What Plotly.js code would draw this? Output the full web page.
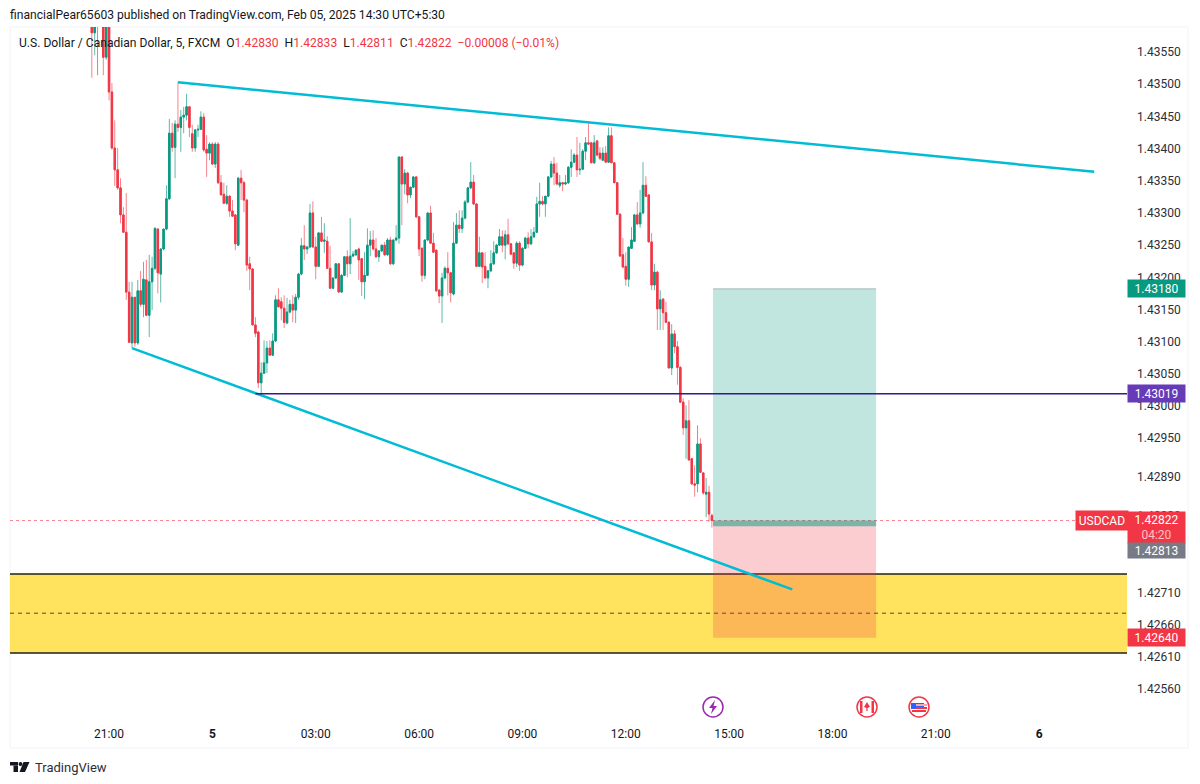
<!DOCTYPE html>
<html>
<head>
<meta charset="utf-8">
<script src="https://cdn.plot.ly/plotly-3.0.1.min.js"></script>
<style>
	html, body { margin: 0; padding: 0; background: #fff; }
	#chart { width: 1200px; height: 784px; }
</style>
</head>
<body>
<div id="chart"></div>
<script>
'use strict';

// USDCAD 5 min candles, first bar 20:30, last bar 14:30
const firstBar = '2025-02-04T20:30:00Z';

const opens = [
1.43603,1.43580,1.43594,1.43607,1.43600,1.43542,1.43592,1.43488,1.43401,1.43367,
1.43339,1.43297,1.43270,1.43177,1.43098,1.43169,1.43098,1.43179,1.43158,1.43196,
1.43141,1.43193,1.43214,1.43275,1.43205,1.43244,1.43275,1.43322,1.43424,1.43402,
1.43438,1.43433,1.43449,1.43452,1.43465,1.43423,1.43401,1.43429,1.43430,1.43449,
1.43399,1.43393,1.43407,1.43376,1.43407,1.43347,1.43329,1.43315,1.43326,1.43303,
1.43297,1.43250,1.43354,1.43347,1.43320,1.43221,1.43213,1.43126,1.43115,1.43036,
1.43051,1.43067,1.43090,1.43079,1.43101,1.43165,1.43162,1.43152,1.43129,1.43146,
1.43158,1.43149,1.43169,1.43205,1.43249,1.43244,1.43247,1.43300,1.43247,1.43217,
1.43269,1.43256,1.43256,1.43214,1.43183,1.43199,1.43221,1.43177,1.43203,1.43232,
1.43221,1.43233,1.43235,1.43244,1.43229,1.43193,1.43203,1.43250,1.43258,1.43244,
1.43232,1.43241,1.43250,1.43235,1.43258,1.43221,1.43258,1.43261,1.43387,1.43345,
1.43362,1.43328,1.43340,1.43356,1.43294,1.43245,1.43203,1.43258,1.43300,1.43253,
1.43242,1.43180,1.43171,1.43199,1.43214,1.43207,1.43174,1.43253,1.43281,1.43276,
1.43292,1.43317,1.43339,1.43348,1.43314,1.43217,1.43238,1.43217,1.43199,1.43210,
1.43221,1.43238,1.43250,1.43263,1.43250,1.43266,1.43252,1.43238,1.43222,1.43253,
1.43219,1.43245,1.43261,1.43252,1.43263,1.43270,1.43314,1.43318,1.43314,1.43326,
1.43356,1.43376,1.43362,1.43343,1.43347,1.43345,1.43347,1.43371,1.43379,1.43390,
1.43367,1.43368,1.43396,1.43409,1.43409,1.43378,1.43412,1.43393,1.43382,1.43393,
1.43379,1.43420,1.43378,1.43347,1.43298,1.43235,1.43217,1.43197,1.43245,1.43256,
1.43297,1.43283,1.43300,1.43343,1.43328,1.43255,1.43188,1.43208,1.43151,1.43166,
1.43145,1.43130,1.43059,1.43112,1.43092,1.43060,1.43006,1.42966,1.42977,1.42918,
1.42879,1.42879,1.42941,1.42896,1.42863,1.42866,1.42830];

const highs = [
1.43615,1.43607,1.43615,1.43618,1.43615,1.43607,1.43615,1.43502,1.43444,1.43401,
1.43354,1.43309,1.43331,1.43193,1.43193,1.43169,1.43196,1.43210,1.43224,1.43227,
1.43235,1.43232,1.43278,1.43276,1.43245,1.43275,1.43343,1.43446,1.43440,1.43444,
1.43503,1.43460,1.43465,1.43485,1.43466,1.43437,1.43430,1.43437,1.43458,1.43455,
1.43421,1.43410,1.43410,1.43410,1.43410,1.43359,1.43347,1.43343,1.43328,1.43320,
1.43298,1.43356,1.43367,1.43350,1.43322,1.43232,1.43214,1.43138,1.43117,1.43068,
1.43102,1.43101,1.43102,1.43113,1.43172,1.43183,1.43169,1.43172,1.43168,1.43165,
1.43172,1.43174,1.43207,1.43261,1.43281,1.43249,1.43314,1.43318,1.43263,1.43270,
1.43294,1.43284,1.43264,1.43249,1.43199,1.43221,1.43222,1.43205,1.43233,1.43242,
1.43292,1.43241,1.43244,1.43246,1.43230,1.43239,1.43276,1.43272,1.43273,1.43261,
1.43242,1.43250,1.43255,1.43261,1.43263,1.43258,1.43281,1.43387,1.43388,1.43368,
1.43364,1.43340,1.43357,1.43357,1.43295,1.43247,1.43258,1.43300,1.43311,1.43269,
1.43244,1.43182,1.43207,1.43217,1.43239,1.43208,1.43286,1.43300,1.43304,1.43304,
1.43320,1.43339,1.43379,1.43359,1.43315,1.43263,1.43239,1.43239,1.43211,1.43242,
1.43256,1.43252,1.43275,1.43273,1.43273,1.43291,1.43253,1.43239,1.43256,1.43256,
1.43247,1.43263,1.43270,1.43275,1.43278,1.43325,1.43347,1.43326,1.43326,1.43357,
1.43381,1.43387,1.43378,1.43359,1.43348,1.43359,1.43373,1.43399,1.43393,1.43418,
1.43409,1.43399,1.43418,1.43440,1.43410,1.43421,1.43413,1.43402,1.43402,1.43404,
1.43433,1.43433,1.43379,1.43348,1.43300,1.43261,1.43239,1.43247,1.43278,1.43297,
1.43317,1.43336,1.43379,1.43357,1.43329,1.43269,1.43221,1.43210,1.43180,1.43168,
1.43162,1.43132,1.43127,1.43118,1.43101,1.43062,1.43012,1.43001,1.43009,1.42919,
1.42908,1.42970,1.42950,1.42897,1.42888,1.42876,1.42833];

const lows = [
1.43510,1.43545,1.43514,1.43597,1.43514,1.43538,1.43475,1.43398,1.43342,1.43336,
1.43284,1.43270,1.43165,1.43098,1.43090,1.43092,1.43095,1.43154,1.43138,1.43140,
1.43107,1.43149,1.43211,1.43175,1.43161,1.43242,1.43273,1.43320,1.43395,1.43354,
1.43426,1.43395,1.43424,1.43444,1.43418,1.43395,1.43395,1.43418,1.43429,1.43395,
1.43356,1.43382,1.43375,1.43370,1.43345,1.43328,1.43315,1.43312,1.43294,1.43294,
1.43242,1.43249,1.43320,1.43301,1.43210,1.43180,1.43126,1.43107,1.43028,1.43017,
1.43050,1.43051,1.43079,1.43078,1.43099,1.43154,1.43133,1.43121,1.43127,1.43144,
1.43130,1.43129,1.43165,1.43203,1.43227,1.43236,1.43245,1.43247,1.43197,1.43216,
1.43255,1.43238,1.43214,1.43183,1.43182,1.43197,1.43177,1.43176,1.43202,1.43200,
1.43205,1.43232,1.43233,1.43196,1.43171,1.43166,1.43202,1.43233,1.43242,1.43230,
1.43224,1.43239,1.43233,1.43233,1.43219,1.43219,1.43256,1.43252,1.43281,1.43329,
1.43315,1.43323,1.43339,1.43292,1.43233,1.43193,1.43197,1.43256,1.43252,1.43238,
1.43177,1.43160,1.43129,1.43197,1.43172,1.43161,1.43172,1.43252,1.43269,1.43269,
1.43290,1.43315,1.43337,1.43312,1.43217,1.43216,1.43191,1.43197,1.43183,1.43208,
1.43219,1.43236,1.43249,1.43239,1.43228,1.43250,1.43235,1.43213,1.43216,1.43210,
1.43217,1.43244,1.43245,1.43250,1.43261,1.43269,1.43294,1.43312,1.43294,1.43325,
1.43354,1.43343,1.43343,1.43339,1.43334,1.43343,1.43345,1.43356,1.43378,1.43356,
1.43359,1.43367,1.43382,1.43406,1.43378,1.43376,1.43388,1.43382,1.43381,1.43379,
1.43378,1.43378,1.43347,1.43297,1.43232,1.43214,1.43187,1.43185,1.43244,1.43255,
1.43281,1.43277,1.43298,1.43325,1.43255,1.43180,1.43180,1.43118,1.43118,1.43118,
1.43129,1.43059,1.43048,1.43082,1.43033,1.43006,1.42955,1.42918,1.42916,1.42877,
1.42859,1.42866,1.42896,1.42862,1.42827,1.42820,1.42811];

const closes = [
1.43580,1.43597,1.43600,1.43603,1.43542,1.43592,1.43488,1.43401,1.43367,1.43339,
1.43297,1.43270,1.43177,1.43099,1.43169,1.43098,1.43179,1.43158,1.43197,1.43141,
1.43193,1.43214,1.43276,1.43207,1.43244,1.43275,1.43322,1.43424,1.43402,1.43438,
1.43433,1.43449,1.43452,1.43465,1.43433,1.43401,1.43429,1.43430,1.43449,1.43398,
1.43393,1.43407,1.43376,1.43407,1.43347,1.43328,1.43315,1.43326,1.43303,1.43295,
1.43252,1.43354,1.43347,1.43320,1.43219,1.43213,1.43126,1.43113,1.43036,1.43051,
1.43067,1.43090,1.43079,1.43101,1.43165,1.43154,1.43152,1.43130,1.43146,1.43158,
1.43149,1.43169,1.43205,1.43249,1.43244,1.43247,1.43300,1.43247,1.43217,1.43269,
1.43256,1.43258,1.43214,1.43183,1.43199,1.43221,1.43177,1.43203,1.43232,1.43221,
1.43233,1.43236,1.43242,1.43227,1.43193,1.43203,1.43250,1.43258,1.43244,1.43232,
1.43241,1.43250,1.43235,1.43258,1.43221,1.43258,1.43261,1.43387,1.43345,1.43362,
1.43328,1.43340,1.43356,1.43294,1.43244,1.43203,1.43258,1.43300,1.43253,1.43239,
1.43179,1.43171,1.43199,1.43214,1.43207,1.43176,1.43253,1.43281,1.43276,1.43292,
1.43317,1.43339,1.43348,1.43314,1.43217,1.43238,1.43216,1.43199,1.43210,1.43221,
1.43238,1.43250,1.43263,1.43250,1.43266,1.43252,1.43236,1.43222,1.43253,1.43219,
1.43245,1.43261,1.43252,1.43263,1.43270,1.43314,1.43318,1.43314,1.43326,1.43356,
1.43376,1.43362,1.43345,1.43347,1.43345,1.43347,1.43371,1.43379,1.43390,1.43367,
1.43368,1.43396,1.43409,1.43407,1.43378,1.43409,1.43390,1.43385,1.43393,1.43379,
1.43420,1.43378,1.43347,1.43298,1.43233,1.43216,1.43197,1.43247,1.43258,1.43297,
1.43283,1.43300,1.43343,1.43326,1.43255,1.43188,1.43208,1.43151,1.43165,1.43145,
1.43130,1.43059,1.43112,1.43092,1.43060,1.43006,1.42966,1.42977,1.42916,1.42879,
1.42877,1.42941,1.42897,1.42865,1.42866,1.42832,1.42822];

const priceTicks = [1.43550,1.43500,1.43450,1.43400,1.43350,1.43300,1.43250,1.43200,1.43150,1.43100,1.43050,1.43000,1.42950,1.42890,1.42830,1.42710,1.42660,1.42610,1.42560];
const timeTicks = ['2025-02-04 21:00','2025-02-05 00:00','2025-02-05 03:00','2025-02-05 06:00','2025-02-05 09:00','2025-02-05 12:00','2025-02-05 15:00','2025-02-05 18:00','2025-02-05 21:00','2025-02-06 00:00'];
const timeLabels = ['21:00','<b>5</b>','03:00','06:00','09:00','12:00','15:00','18:00','21:00','<b>6</b>'];

// drawings on the chart
const upperTrendTime = ['2025-02-04 23:00','2025-02-06 01:36'];
const upperTrendPrice = [1.43503,1.43364];
const lowerTrendTime = ['2025-02-04 21:40','2025-02-05 16:50'];
const lowerTrendPrice = [1.43090,1.42715];
const pivotLevel = 1.43019;
const pivotStart = '2025-02-05 01:15';
const zoneTop = 1.42739, zoneMid = 1.42678, zoneBottom = 1.42616;
const positionTime = ['2025-02-05 14:32','2025-02-05 19:16'];
const targetPrice = 1.43182, entryPrice = 1.42813, stopPrice = 1.42640, lastPrice = 1.42822;

const GREEN = '#089981', RED = '#F23645', INK = '#131722', CYAN = '#00BCD4';
const FONT = 'Roboto, "Open Sans", sans-serif';

// plot box in page pixels
const box = { l: 10, r: 1127, t: 27, b: 720 };
const paperX = x => (x - box.l) / (box.r - box.l);
const paperY = y => (box.b - y) / (box.b - box.t);

const barTimes = opens.map((_, i) => new Date(Date.parse(firstBar) + i * 300000).toISOString());

// wicks are paler than the bodies in the picture, so draw them as their own pass
const wicks = {
	type: 'candlestick',
	x: barTimes,
	open: opens,
	high: highs,
	low: lows,
	close: closes,
	whiskerwidth: 0,
	increasing: { line: { color: '#5FB9A9', width: 1 }, fillcolor: '#5FB9A9' },
	decreasing: { line: { color: '#F6848E', width: 1 }, fillcolor: '#F6848E' },
	hoverinfo: 'skip'
};

const bodies = {
	type: 'candlestick',
	x: barTimes,
	open: opens,
	high: opens.map((o, i) => Math.max(o, closes[i])),
	low: opens.map((o, i) => Math.min(o, closes[i])),
	close: closes,
	whiskerwidth: 0,
	increasing: { line: { color: GREEN, width: 1 }, fillcolor: GREEN },
	decreasing: { line: { color: RED, width: 1 }, fillcolor: RED },
	hoverinfo: 'skip'
};

const rectP = (x0, x1, y0, y1, fill, line) => ({
	type: 'rect', xref: 'x', yref: 'y', x0, x1, y0, y1,
	fillcolor: fill, line: line || { width: 0 }, layer: 'above'
});
const lineP = (x0, x1, y0, y1, color, width, dash) => ({
	type: 'line', xref: 'x', yref: 'y', x0, x1, y0, y1,
	line: { color, width, dash: dash || 'solid' }, layer: 'above'
});
const zoneLine = (y, dash, width) => ({
	type: 'line', xref: 'paper', yref: 'y', x0: 0, x1: 1, y0: y, y1: y,
	line: { color: '#1f1f1f', width, dash }, layer: 'above'
});

// small page furniture drawn in page pixels
const dot = (cx, cy, r, line, fill) => ({
	type: 'circle', xref: 'paper', yref: 'paper',
	x0: paperX(cx - r), x1: paperX(cx + r), y0: paperY(cy + r), y1: paperY(cy - r),
	line: { color: line, width: 1.5 }, fillcolor: fill || 'rgba(0,0,0,0)'
});
const block = (x0, x1, y0, y1, fill) => ({
	type: 'rect', xref: 'paper', yref: 'paper',
	x0: paperX(x0), x1: paperX(x1), y0: paperY(y1), y1: paperY(y0),
	fillcolor: fill, line: { width: 0 }
});
const outline = (pts, fill) => ({
	type: 'path', xref: 'paper', yref: 'paper',
	path: pts.map((p, i) => (i ? 'L' : 'M') + paperX(p[0]) + ',' + paperY(p[1])).join(' ') + ' Z',
	fillcolor: fill, line: { width: 0 }
});

const shapes = [
	// chart frame
	{ type: 'rect', xref: 'paper', yref: 'paper', x0: paperX(10), x1: paperX(1188), y0: paperY(748), y1: paperY(27), line: { color: '#F0F3FA', width: 1 }, layer: 'below' },
	// demand zone
	{ type: 'rect', xref: 'paper', yref: 'y', x0: 0, x1: 1, y0: zoneBottom, y1: zoneTop, fillcolor: '#FFE35E', line: { width: 0 }, layer: 'above' },
	zoneLine(zoneTop, 'solid', 1.5),
	zoneLine(zoneBottom, 'solid', 1.5),
	zoneLine(zoneMid, '4px,4px', 0.8),
	// last price line
	{ type: 'line', xref: 'paper', yref: 'y', x0: 0, x1: 1, y0: lastPrice, y1: lastPrice, line: { color: 'rgba(242,54,69,0.6)', width: 1, dash: 'dot' }, layer: 'above' },
	// long position
	rectP(positionTime[0], positionTime[1], entryPrice, targetPrice, 'rgba(8,153,129,0.25)'),
	rectP(positionTime[0], positionTime[1], stopPrice, entryPrice, 'rgba(242,54,69,0.25)'),
	rectP(positionTime[0], positionTime[1], entryPrice, lastPrice, 'rgba(40,120,105,0.45)'),
	lineP(positionTime[0], positionTime[1], targetPrice, targetPrice, '#9fb9b4', 1),
	// trend lines and level
	lineP(upperTrendTime[0], upperTrendTime[1], upperTrendPrice[0], upperTrendPrice[1], CYAN, 2.5),
	lineP(lowerTrendTime[0], lowerTrendTime[1], lowerTrendPrice[0], lowerTrendPrice[1], CYAN, 2.5),
	{ type: 'line', xref: 'x', yref: 'y', x0: pivotStart, x1: '2025-02-06 02:33', y0: pivotLevel, y1: pivotLevel, line: { color: '#311B92', width: 1.5 }, layer: 'above' },
	// news icons
	dot(713, 707, 10, '#9C27B0'),
	outline([[715, 700], [709, 708], [712.5, 708], [711, 714], [717, 706], [713.5, 706]], '#9C27B0'),
	dot(867, 707, 10, '#F23645'),
	block(860, 862.5, 701, 713, '#F23645'),
	block(871.5, 874, 701, 713, '#F23645'),
	outline([[867, 702], [870, 707], [867.6, 708], [867.6, 711], [866.4, 711], [866.4, 708], [864, 707]], '#F23645'),
	dot(919, 707, 10, '#F23645'),
	block(911, 924, 703, 709, '#2962FF'),
	block(916, 927, 704, 706, '#F7A8AE'),
	block(916, 927, 707, 709, '#F23645'),
	block(912, 926, 710, 712, '#F23645'),
	// TradingView mark
	block(10, 18, 762, 765.5, '#131722'),
	block(13.5, 18, 765.5, 772, '#131722'),
	dot(20.5, 764, 1.2, '#131722', '#131722'),
	outline([[23.5, 762], [29.5, 762], [25, 772], [19.5, 772]], '#131722')
];

// label box sitting in the price axis
const badge = (text, y, bg, height) => ({
	xref: 'paper', yref: 'y', x: paperX(1156.5), y, xanchor: 'center', yanchor: 'middle',
	text, showarrow: false, width: 57, height: height || 17, bgcolor: bg,
	font: { family: FONT, size: 12, color: '#fff' }, align: 'center', borderpad: 0
});
const pageText = (text, x, y, size, color) => ({
	xref: 'paper', yref: 'paper', x: paperX(x), y: paperY(y), xanchor: 'left', yanchor: 'middle',
	text, showarrow: false, font: { family: FONT, size, color }
});

const redVal = v => '<span style="color:' + RED + '">' + v + '</span>';

const annotations = [
	pageText('U.S. Dollar / Canadian Dollar, 5, FXCM&nbsp;&nbsp;O' + redVal('1.42830') + '&nbsp;&nbsp;H' + redVal('1.42833') + '&nbsp;&nbsp;L' + redVal('1.42811') + '&nbsp;&nbsp;C' + redVal('1.42822') + '&nbsp;&nbsp;' + redVal('−0.00008 (−0.01%)'), 16.5, 43, 12.1, INK),
	pageText('TradingView', 32.5, 767, 13, '#2a2e39'),
	badge('1.43180', targetPrice, GREEN),
	badge('1.43019', pivotLevel, '#673AB7'),
	badge('1.42822<br><span style="color:#FFC0C6">04:20</span>', 1.42811, RED, 31),
	badge('1.42813', 1.42775, '#787B86', 15),
	badge('1.42640', stopPrice, RED),
	{
		xref: 'paper', yref: 'y', x: paperX(1102), y: lastPrice, xanchor: 'center', yanchor: 'middle',
		text: 'USDCAD', showarrow: false, width: 50, height: 17, bgcolor: RED,
		font: { family: FONT, size: 12, color: '#fff' }
	}
];

const layout = {
	width: 1200,
	height: 784,
	paper_bgcolor: '#fff',
	plot_bgcolor: '#fff',
	showlegend: false,
	margin: { l: box.l, r: 1200 - box.r, t: box.t, b: 784 - box.b, pad: 0 },
	font: { family: FONT, size: 12, color: INK },
	title: {
		text: 'financialPear65603 published on TradingView.com, Feb 05, 2025 14:30 UTC+5:30',
		x: 10 / 1200, xanchor: 'left', y: 1 - 15 / 784, yanchor: 'middle',
		font: { family: FONT, size: 12.1, color: INK }
	},
	xaxis: {
		type: 'date',
		range: ['2025-02-04 18:07:30', '2025-02-06 02:33'],
		rangeslider: { visible: false },
		tickmode: 'array',
		tickvals: timeTicks,
		ticktext: timeLabels,
		showgrid: false,
		zeroline: false,
		showline: false,
		ticks: '',
		ticklabelstandoff: 5,
		tickfont: { family: FONT, size: 12, color: INK }
	},
	yaxis: {
		side: 'right',
		range: [1.42512, 1.43589],
		tickmode: 'array',
		tickvals: priceTicks,
		ticktext: priceTicks.map(v => v.toFixed(5)),
		showgrid: false,
		zeroline: false,
		showline: false,
		ticks: '',
		ticklabelstandoff: 9,
		tickfont: { family: FONT, size: 12, color: '#2a2e39' }
	},
	shapes,
	annotations
};

Plotly.newPlot('chart', [wicks, bodies], layout, { displayModeBar: false, staticPlot: true });
</script>
</body>
</html>
